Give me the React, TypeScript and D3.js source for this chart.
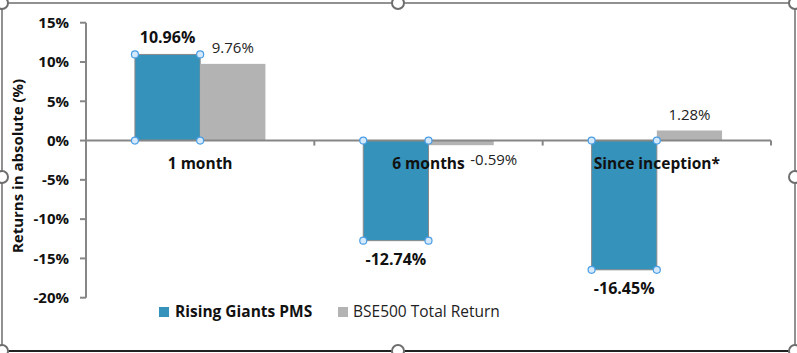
import React from 'react';
import * as d3 from 'd3';

const categories = ['1 month', '6 months', 'Since inception*'];
const risingGiants = [10.96, -12.74, -16.45];
const bse500 = [9.76, -0.59, 1.28];
const seriesNames = ['Rising Giants PMS', 'BSE500 Total Return'];
const yTicks = [15, 10, 5, 0, -5, -10, -15, -20];

export default function App() {
  const width = 797;
  const height = 353;
  const font = '"Open Sans", sans-serif';
  const blue = '#3592ba';
  const gray = '#b3b3b3';
  const axisColor = '#868686';

  // scales
  const x = d3.scaleBand().domain(categories).range([86, 771]).paddingInner(0).paddingOuter(0);
  const y = d3.scaleLinear().domain([-20, 15]).range([297.7, 22.7]);
  const cw = x.bandwidth();
  const barW = cw / 3.5;
  const groupOff = (cw - 2 * barW) / 2;

  const handles: [number, number][] = [
    [2, 3], [398, 3], [795, 3], [795, 177], [795, 351], [398, 351], [2, 351], [2, 177],
  ];

  return (
    <svg
      width={width}
      height={height}
      style={{ position: 'absolute', left: 0, top: 0, background: '#fff' }}
      fontFamily={font}
    >
      {/* frame */}
      <rect x={2} y={3} width={793} height={348} fill="#fff" stroke="#6e6e6e" strokeWidth={1.5} />
      <line x1={2} x2={795} y1={351} y2={351} stroke="#222" strokeWidth={2} />

      {/* y axis */}
      <g>
        <line x1={86} x2={86} y1={y(15)} y2={y(-20)} stroke={axisColor} strokeWidth={2} />
        {yTicks.map((t) => (
          <g key={t}>
            <line x1={80} x2={86} y1={y(t)} y2={y(t)} stroke={axisColor} strokeWidth={2} />
            <text x={69} y={y(t)} dy="0.35em" textAnchor="end" fontSize={15} fontWeight="bold" fill="#111">
              {t}%
            </text>
          </g>
        ))}
      </g>
      <text
        transform={`translate(18,${166}) rotate(-90)`}
        textAnchor="middle"
        dy="0.35em"
        fontSize={15}
        fontWeight="bold"
        fill="#111"
      >
        Returns  in absolute (%)
      </text>

      {/* bars */}
      {categories.map((c, i) => {
        const x0 = (x(c) as number) + groupOff;
        const v1 = risingGiants[i];
        const v2 = bse500[i];
        return (
          <g key={c}>
            <rect x={x0} y={y(Math.max(0, v1))} width={barW} height={Math.abs(y(v1) - y(0))} fill={blue} stroke="#8a8a8a" strokeWidth={1} />
            <rect x={x0 + barW} y={y(Math.max(0, v2))} width={barW} height={Math.abs(y(v2) - y(0))} fill={gray} />
          </g>
        );
      })}

      {/* x axis */}
      <line x1={86} x2={771} y1={y(0)} y2={y(0)} stroke={axisColor} strokeWidth={2} />
      {categories.map((c) => (
        <line key={c} x1={(x(c) as number) + cw} x2={(x(c) as number) + cw} y1={y(0)} y2={y(0) + 5} stroke={axisColor} strokeWidth={2} />
      ))}
      {categories.map((c) => (
        <text key={c} x={(x(c) as number) + cw / 2} y={y(0) + 23} dy="0.35em" textAnchor="middle" fontSize={15.5} fontWeight="bold" fill="#111">
          {c}
        </text>
      ))}

      {/* selection handles on the blue series */}
      {categories.map((c, i) => {
        const x0 = (x(c) as number) + groupOff;
        const pts = [
          [x0, y(0)], [x0 + barW, y(0)], [x0, y(risingGiants[i])], [x0 + barW, y(risingGiants[i])],
        ];
        return pts.map(([px, py], k) => (
          <circle key={`${c}-${k}`} cx={px} cy={py} r={3.5} fill="#d4e9fb" stroke="#4a9ee6" strokeWidth={1.2} />
        ));
      })}

      {/* data labels */}
      {categories.map((c, i) => {
        const x0 = (x(c) as number) + groupOff;
        const v1 = risingGiants[i];
        const v2 = bse500[i];
        return (
          <g key={c}>
            <text
              x={x0 + barW / 2}
              y={v1 >= 0 ? y(v1) - 17 : y(v1) + 19}
              dy="0.35em"
              textAnchor="middle"
              fontSize={16}
              fontWeight="bold"
              fill="#111"
            >
              {v1.toFixed(2)}%
            </text>
            <text
              x={v2 >= 0 ? x0 + barW * 1.5 : x0 + barW * 2}
              y={v2 >= 0 ? y(v2) - 16 : y(v2) + 15}
              dy="0.35em"
              textAnchor="middle"
              fontSize={15}
              fill="#222"
            >
              {v2.toFixed(2)}%
            </text>
          </g>
        );
      })}

      {/* legend */}
      <g>
        <rect x={159} y={307} width={10} height={10} fill={blue} />
        <text x={175} y={312} dy="0.35em" fontSize={15.5} fontWeight="bold" fill="#111">
          {seriesNames[0]}
        </text>
        <rect x={338} y={307} width={10} height={10} fill={gray} />
        <text x={353} y={312} dy="0.35em" fontSize={15.5} fill="#222">
          {seriesNames[1]}
        </text>
      </g>

      {/* chart frame handles */}
      {handles.map(([hx, hy], k) => (
        <circle key={k} cx={hx} cy={hy} r={6} fill="#fff" stroke="#6e6e6e" strokeWidth={2} />
      ))}
    </svg>
  );
}
